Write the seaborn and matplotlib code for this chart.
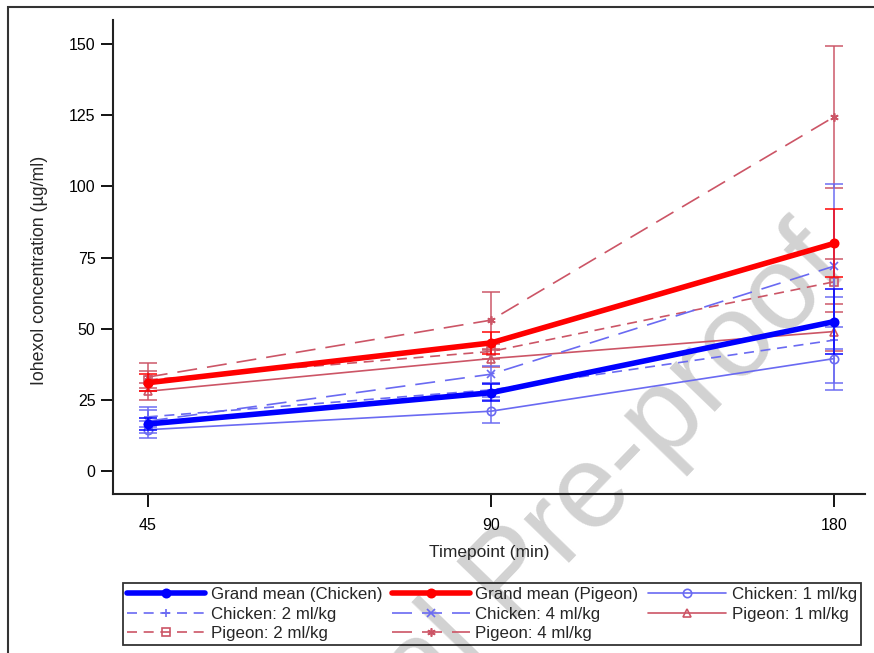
import numpy as np
import pandas as pd
import seaborn as sns
import matplotlib.pyplot as plt
from matplotlib.patches import Rectangle

timepoints = ['45', '90', '180']

gm_chicken = [16.5, 27.5, 52.5]
gm_chicken_err = [2.0, 3.0, 11.5]
gm_pigeon = [31.0, 45.0, 80.0]
gm_pigeon_err = [3.0, 3.8, 12.0]
chicken_1 = [14.5, 21.0, 39.5]
chicken_1_err = [3.0, 4.0, 11.0]
chicken_2 = [19.0, 28.5, 46.0]
chicken_2_err = [3.5, 2.5, 15.0]
chicken_4 = [17.5, 34.0, 72.0]
chicken_4_err = [4.0, 3.0, 29.0]
pigeon_1 = [28.0, 39.5, 49.0]
pigeon_1_err = [3.0, 3.0, 7.0]
pigeon_2 = [32.0, 42.0, 66.5]
pigeon_2_err = [3.0, 2.5, 8.0]
pigeon_4 = [33.0, 53.0, 124.5]
pigeon_4_err = [5.0, 10.0, 25.0]

sns.set_style("ticks")
plt.rcParams['font.family'] = ['Liberation Sans', 'DejaVu Sans']

blue = '#0000ff'
red = '#ff0000'
lblue = '#6a6af2'
lred = '#cc5566'

# label, values, errors, colour, line width, dashes, marker, filled
series = [
    ("Grand mean (Chicken)", gm_chicken, gm_chicken_err, blue, 4, (None, None), 'o', True),
    ("Grand mean (Pigeon)", gm_pigeon, gm_pigeon_err, red, 4, (None, None), 'o', True),
    ("Chicken: 1 ml/kg", chicken_1, chicken_1_err, lblue, 1.2, (None, None), 'o', False),
    ("Chicken: 2 ml/kg", chicken_2, chicken_2_err, lblue, 1.2, (6, 4), '+', True),
    ("Chicken: 4 ml/kg", chicken_4, chicken_4_err, lblue, 1.2, (12, 6), 'x', True),
    ("Pigeon: 1 ml/kg", pigeon_1, pigeon_1_err, lred, 1.2, (None, None), '^', False),
    ("Pigeon: 2 ml/kg", pigeon_2, pigeon_2_err, lred, 1.2, (6, 4), 's', False),
    ("Pigeon: 4 ml/kg", pigeon_4, pigeon_4_err, lred, 1.2, (12, 6), (6, 2, 0), True),
]

fig = plt.figure(figsize=(8.74, 6.53), dpi=100)
ax = fig.add_axes([0.129, 0.2435, 0.861, 0.7255])
ax.patch.set_alpha(0)
pos = np.arange(len(timepoints))

for label, vals, err, col, lw, dash, mk, filled in reversed(series):
    df = pd.DataFrame({'pos': pos, 'val': vals})
    ax.errorbar(pos, vals, yerr=err, fmt='none', ecolor=col, elinewidth=1.2,
                capsize=6.5, capthick=1.2, alpha=0.9)
    kw = dict(color=col, linewidth=lw, marker=mk, markersize=6,
              markeredgecolor=col, markeredgewidth=1.2, label=label)
    if not filled:
        kw['markerfacecolor'] = 'none'
    sns.lineplot(data=df, x='pos', y='val', ax=ax, **kw)
    if dash[0] is not None:
        ax.lines[-1].set_dashes(dash)

ax.set_xlim(-0.102, 2.09)
ax.set_ylim(-8.1, 158.4)
ax.set_xticks(pos)
ax.set_xticklabels(timepoints)
ax.set_yticks([0, 25, 50, 75, 100, 125, 150])
ax.tick_params(axis='both', length=9, width=1.3, labelsize=11.5, colors='black')
ax.tick_params(axis='x', pad=8)
for side in ['left', 'bottom']:
    ax.spines[side].set_linewidth(1.5)
    ax.spines[side].set_color('#222222')
sns.despine(ax=ax)
ax.set_xlabel("Timepoint (min)", fontsize=12.5, labelpad=9)
ax.set_ylabel("Iohexol concentration (\u00b5g/ml)", fontsize=12.8)
ax.yaxis.set_label_coords(-0.086, 0.473)

handles, labels = ax.get_legend_handles_labels()
hmap = dict(zip(labels, handles))
order = ["Grand mean (Chicken)", "Chicken: 2 ml/kg", "Pigeon: 2 ml/kg",
         "Grand mean (Pigeon)", "Chicken: 4 ml/kg", "Pigeon: 4 ml/kg",
         "Chicken: 1 ml/kg", "Pigeon: 1 ml/kg"]
if ax.get_legend():
    ax.get_legend().remove()
leg = fig.legend([hmap[o] for o in order], order, loc='upper center',
                 bbox_to_anchor=(0.563, 0.120), ncol=3, fontsize=12.2,
                 frameon=True, fancybox=False, edgecolor='black',
                 facecolor='none', framealpha=None,
                 handlelength=4.6, columnspacing=0.6, handletextpad=0.3,
                 labelspacing=0.25, borderpad=0.25)
leg.get_frame().set_linewidth(1.3)

# outer frame
fig.patches.append(Rectangle((0.009, -0.01), 1.0, 1.0, transform=fig.transFigure,
                             fill=False, edgecolor='#333333', linewidth=1.5))

# watermark, drawn behind everything
fig.text(0.587, 0.115, "Journal Pre-proof", fontsize=85, color='#d2d2d2',
         rotation=46, ha='center', va='center',
         rotation_mode='anchor', zorder=-1)

fig.savefig("out.png", dpi=100)
